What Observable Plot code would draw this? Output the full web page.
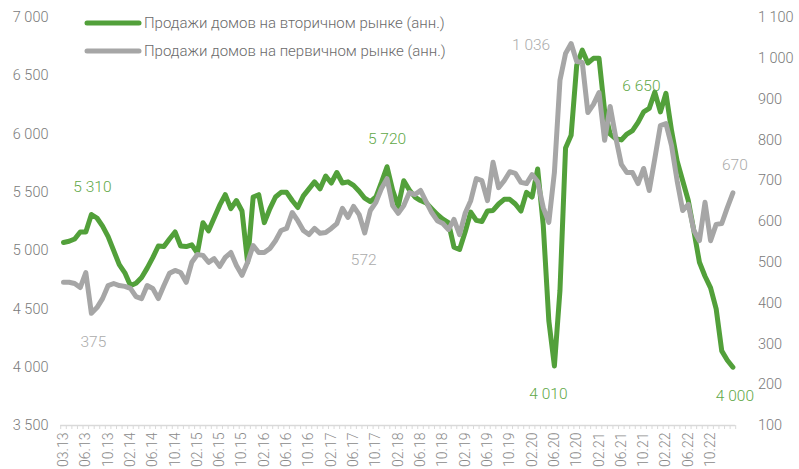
<!DOCTYPE html>
<html><head><meta charset="utf-8">
<script src="https://cdn.jsdelivr.net/npm/d3@7"></script>
<script src="https://cdn.jsdelivr.net/npm/@observablehq/plot@0.6"></script>
<style>body{margin:0;background:#fff} #chart{width:799px;height:469px}</style>
</head><body><div id="chart"></div>
<script>
const tickLabels = ["03.13","06.13","10.13","02.14","06.14","10.14","02.15","06.15","10.15","02.16","06.16","10.16","02.17","06.17","10.17","02.18","06.18","10.18","02.19","06.19","10.19","02.20","06.20","10.20","02.21","06.21","10.21","02.22","06.22","10.22"];
const seriesNames = ["Продажи домов на вторичном рынке (анн.)","Продажи домов на первичном рынке (анн.)"];
// existing (secondary market) home sales, thousands, left axis
const existingSales = [5070,5080,5100,5160,5160,5310,5280,5210,5120,5000,4880,4810,4700,4720,4770,4850,4940,5040,5035,5100,5160,5040,5035,5050,4980,5240,5170,5280,5390,5480,5360,5430,5340,4900,5460,5480,5240,5360,5460,5500,5500,5430,5370,5470,5530,5590,5530,5640,5580,5670,5580,5590,5560,5510,5450,5420,5460,5585,5720,5520,5380,5600,5520,5460,5430,5410,5360,5310,5270,5240,5030,5010,5160,5330,5260,5250,5340,5345,5400,5440,5440,5400,5340,5500,5460,5700,5220,4400,4010,4660,5880,5990,6590,6720,6610,6650,6650,6200,6000,5960,5950,6000,6030,6100,6190,6220,6360,6190,6350,6030,5770,5600,5430,5170,4900,4780,4680,4500,4140,4060,4000];
// new (primary market) home sales, thousands, right axis
const newSales = [451,451,448,438,475,375,389,411,443,448,443,441,436,416,411,443,436,411,443,473,480,475,451,500,519,517,500,509,490,512,524,492,468,500,541,524,524,534,553,578,583,622,602,578,568,583,571,573,583,595,632,610,637,617,572,627,647,681,705,639,620,639,671,666,676,649,622,602,595,580,605,568,620,651,705,700,651,745,683,700,722,718,696,693,715,698,634,598,720,946,1012,1036,992,990,867,887,916,799,882,806,740,720,720,693,730,676,754,835,840,786,700,627,642,578,553,647,553,593,595,634,670];
const leftTicks = [3500,4000,4500,5000,5500,6000,6500,7000];
const rightTicks = [100,200,300,400,500,600,700,800,900,1000,1100];

const toLeft = g => 3500 + (g - 100) * 3.5;
const fromLeft = v => Math.round((v - 3500) / 3.5 + 100);
const fmt = d => d3.format(",")(d).replace(/,/g, " ");
const n = existingSales.length;
const tickIdx = tickLabels.map((_, k) => k * 4);
const monthBounds = d3.range(n + 1).map(i => i - 0.5);

const GREEN = "#52a03a", GREY = "#a6a6a6";
const GREEN_T = "#5fa847", GREY_T = "#ababab";

function lab(arr, i, text, color, dx, dy, tr) {
  return Plot.text([i], {x: d => d, y: d => tr ? toLeft(arr[d]) : arr[d], text: () => text,
    fill: color, fontSize: 15.5, dx, dy});
}

const chart = Plot.plot({
  width: 799, height: 469,
  marginLeft: 63, marginRight: 66.6, marginTop: 17, marginBottom: 44,
  x: {domain: [0, n - 1], axis: null},
  y: {domain: [3500, 7000], axis: null},
  style: {fontFamily: "Roboto, sans-serif", fontWeight: 300, background: "#fff", overflow: "visible"},
  marks: [
    Plot.ruleY([3500], {x1: -0.5, x2: n - 0.5, stroke: "#d9d9d9", strokeWidth: 1.5}),
    Plot.axisX(monthBounds, {tickSize: 4, tickFormat: () => "", stroke: "#d9d9d9", label: null}),
    Plot.axisX(tickIdx, {tickSize: 0, tickRotate: -90, tickPadding: 7, tickFormat: d => tickLabels[d / 4],
      fontSize: 14, fill: "#8a8a8a", label: null}),
    Plot.axisY(leftTicks, {anchor: "left", tickSize: 0, tickPadding: 15, tickFormat: fmt,
      fontSize: 14.5, fill: "#7a7a7a", label: null}),
    Plot.axisY(rightTicks.map(toLeft), {anchor: "right", tickSize: 0, tickPadding: 25,
      tickFormat: d => fmt(fromLeft(d)), textAnchor: "start", fontSize: 14.5, fill: "#7a7a7a", label: null}),
    Plot.lineY(existingSales, {x: (d, i) => i, y: d => d, stroke: GREEN, strokeWidth: 5, strokeLinejoin: "round", strokeLinecap: "round"}),
    Plot.lineY(newSales, {x: (d, i) => i, y: d => toLeft(d), stroke: GREY, strokeWidth: 5, strokeLinejoin: "round", strokeLinecap: "round"}),
    lab(existingSales, 5, "5 310", GREEN_T, 1, -27, false),
    lab(existingSales, 58, "5 720", GREEN_T, 0, -28, false),
    lab(existingSales, 88, "4 010", GREEN_T, -6, 28, false),
    lab(existingSales, 95, "6 650", GREEN_T, 48, 28, false),
    lab(existingSales, 120, "4 000", GREEN_T, 2, 29, false),
    lab(newSales, 5, "375", GREY_T, 2, 29, true),
    lab(newSales, 54, "572", GREY_T, -1, 27, true),
    lab(newSales, 91, "1 036", GREY_T, -40, 1, true),
    lab(newSales, 120, "670", GREY_T, 2, -28, true)
  ]
});

// legend inside the plot area
const svg = d3.select(chart);
const lg = svg.append("g").attr("text-anchor", "start");
[[GREEN, seriesNames[0], 23], [GREY, seriesNames[1], 51]].forEach(([c, t, y]) => {
  lg.append("line").attr("x1", 87).attr("x2", 139).attr("y1", y).attr("y2", y)
    .attr("stroke", c).attr("stroke-width", 5).attr("stroke-linecap", "round");
  lg.append("text").attr("x", 144).attr("y", y).attr("dy", "0.35em").attr("text-anchor", "start")
    .attr("font-size", 15).attr("fill", "#6a6a6a").text(t);
});

document.getElementById("chart").appendChild(chart);
</script>
</body></html>
